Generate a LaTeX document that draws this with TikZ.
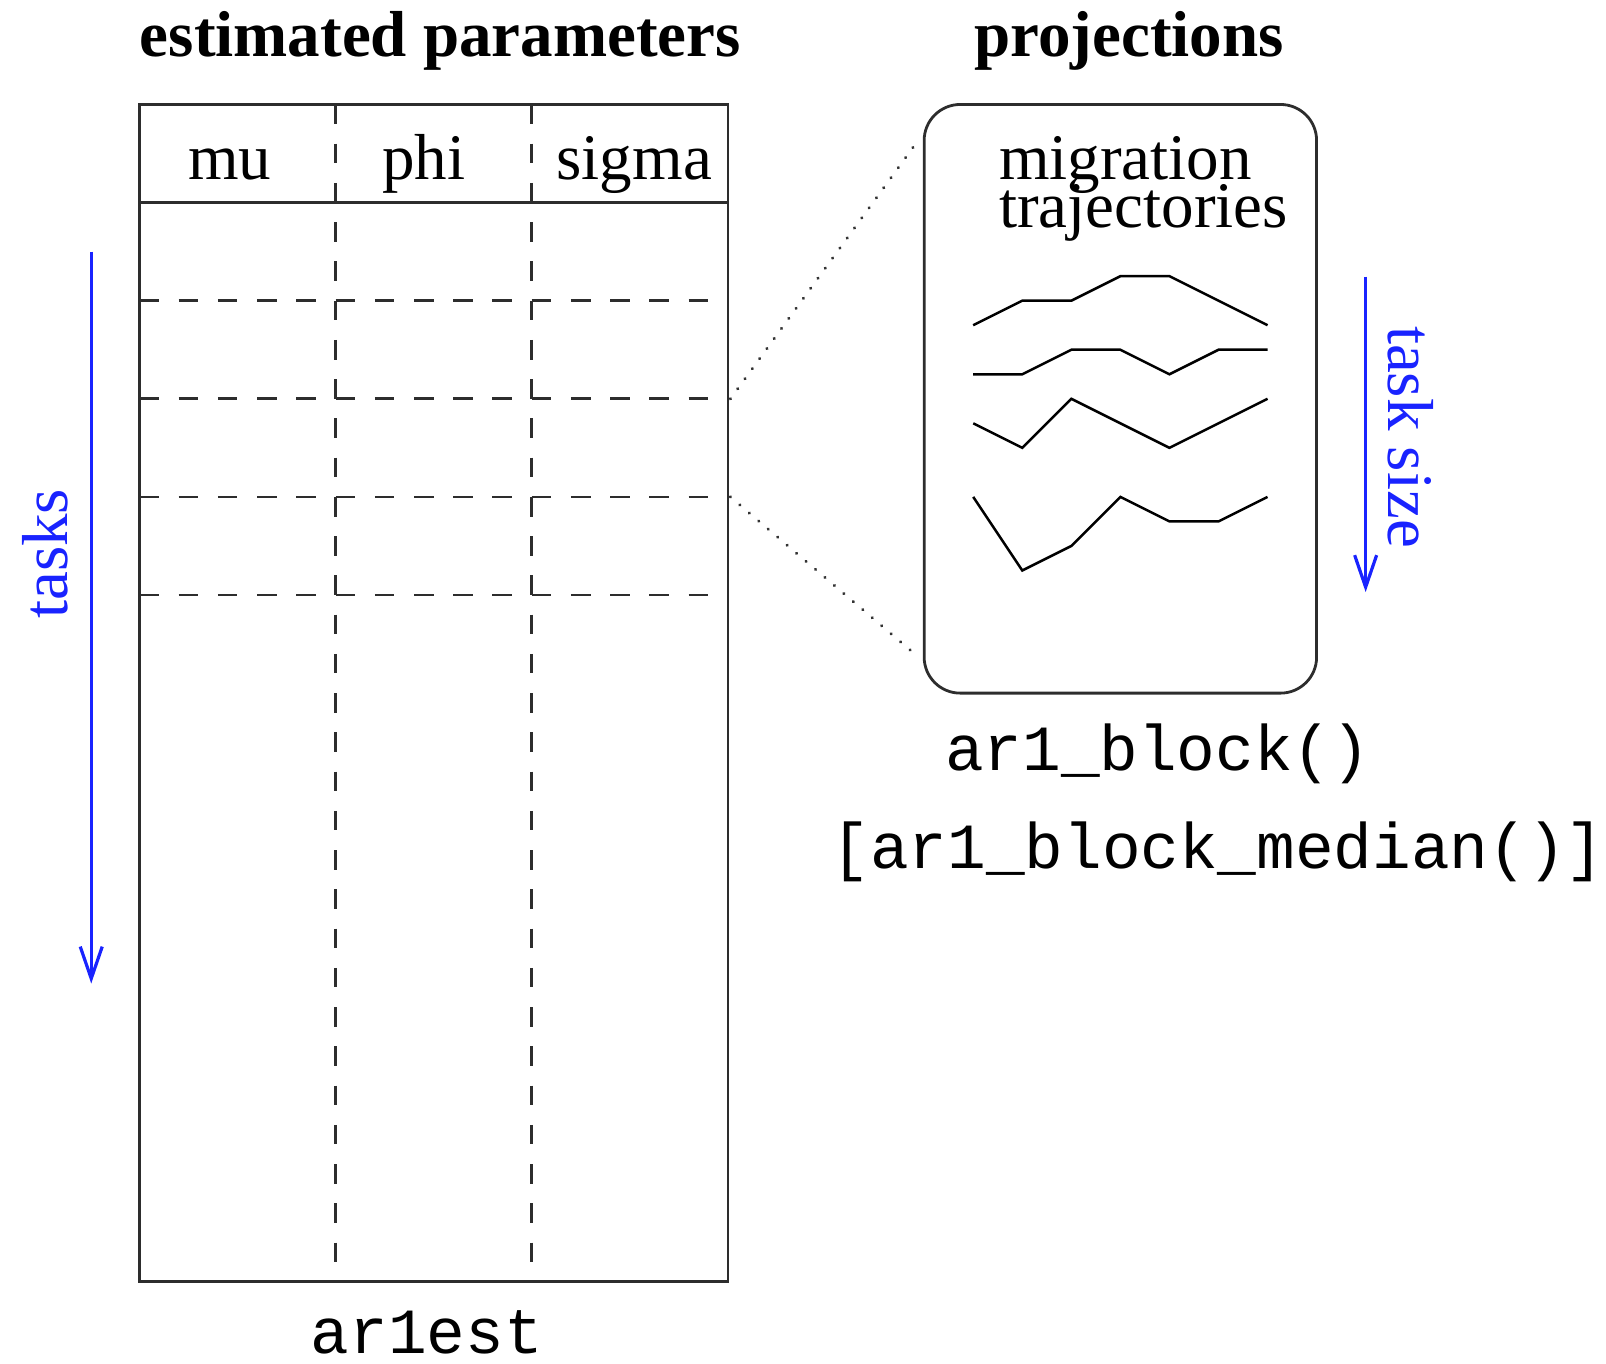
\documentclass[tikz,border=0pt]{standalone}
\usepackage{fontspec}
\setmainfont{Liberation Serif}
\setmonofont{Liberation Mono}
\usetikzlibrary{arrows.meta}
\definecolor{arrowblue}{RGB}{25,35,255}
\definecolor{linegray}{RGB}{45,45,45}
\begin{document}
\begin{tikzpicture}[x=24.525pt,y=-24.525pt,
  frame/.style={draw=linegray,line width=1.4pt},
  gridline/.style={draw=linegray,line width=1.3pt,dash pattern=on 9.81pt off 9.81pt},
  traj/.style={draw=black,line width=1.25pt,line join=miter},
  dotline/.style={draw=black!80,line width=1.7pt,line cap=round,dash pattern=on 0.01pt off 6.2pt},
  bluearrow/.style={draw=arrowblue,line width=1.6pt,-{Straight Barb[length=16pt,width=11pt,line width=1.6pt]}},
  serif/.style={font=\fontsize{32.5}{39}\selectfont,inner sep=0pt},
  heading/.style={font=\fontsize{32.5}{39}\selectfont\bfseries,inner sep=0pt,anchor=base},
  mono/.style={font=\fontsize{32.2}{38}\selectfont\ttfamily,inner sep=0pt,anchor=base},
  bluetext/.style={font=\fontsize{32.5}{39}\selectfont,text=arrowblue,inner sep=0pt}
]
\useasboundingbox (-2.84,-2.13) rectangle (29.90,25.66);

% headings
\node[heading] (hEst) at (6.14,-0.98) {estimated parameters};
\node[heading] (hProj) at (20.18,-0.98) {projections};

% table
\draw[gridline] (4,0) -- (4,24);
\draw[gridline] (8,0) -- (8,24);
\foreach \r in {4,6,8,10}{
  \draw[gridline] (0,\r) -- (12,\r);
}
\draw[frame] (0,0) rectangle (12,24);
\draw[frame] (0,2) -- (12,2);

\node[serif,anchor=base] (cMu) at (1.84,1.52) {mu};
\node[serif,anchor=base] (cPhi) at (5.8,1.52) {phi};
\node[serif,anchor=base] (cSigma) at (10.09,1.52) {sigma};

\node[mono] (lArest) at (5.86,25.47) {ar1est};

% projection box
\node[frame,rounded corners=18pt,minimum width=196.2pt,minimum height=294.3pt,inner sep=0pt] (proj) at (20,6) {};
\node[serif,anchor=base west] (mig1) at (17.52,1.52) {migration};
\node[serif,anchor=base west] (mig2) at (17.52,2.51) {trajectories};

\draw[traj] (17,4.5) -- (18,4) -- (19,4) -- (20,3.5) -- (21,3.5) -- (23,4.5);
\draw[traj] (17,5.5) -- (18,5.5) -- (19,5) -- (20,5) -- (21,5.5) -- (22,5) -- (23,5);
\draw[traj] (17,6.5) -- (18,7) -- (19,6) -- (21,7) -- (23,6);
\draw[traj] (17,8) -- (18,9.5) -- (19,9) -- (20,8) -- (21,8.5) -- (22,8.5) -- (23,8);

\node[mono] (lBlock) at (20.76,13.57) {ar1\_block()};
\node[mono] (lMedian) at (21.99,15.58) {[ar1\_block\_median()]};

% dotted zoom lines
\coordinate (t6) at (12.05,6);
\coordinate (t8) at (12.05,8);
\coordinate (b1) at (15.9,0.7);
\coordinate (b2) at (15.9,11.28);
\draw[dotline] (t6) -- (b1);
\draw[dotline] (t8) -- (b2);

% blue arrows
\coordinate (tasksA) at (-0.98,3);
\coordinate (tasksB) at (-0.98,17.92);
\draw[bluearrow] (tasksA) -- (tasksB);
\node[bluetext,rotate=90] (lTasks) at (-1.91,9.16) {tasks};

\coordinate (sizeA) at (25.0,3.51);
\coordinate (sizeB) at (25.0,9.94);
\draw[bluearrow] (sizeA) -- (sizeB);
\node[bluetext,rotate=-90] (lSize) at (25.91,6.78) {task size};
\end{tikzpicture}
\end{document}
